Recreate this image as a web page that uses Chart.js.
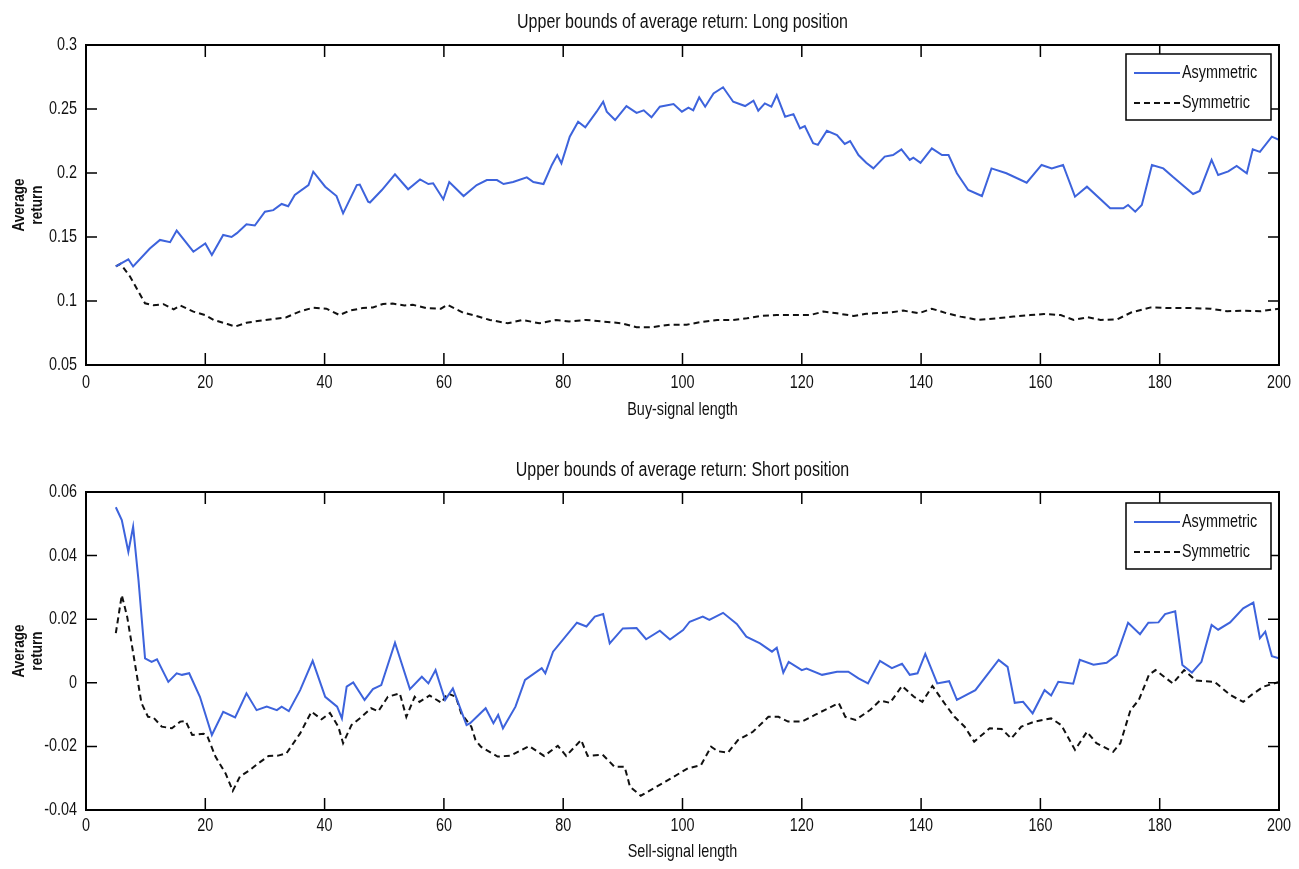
<!DOCTYPE html>
<html>
<head>
<meta charset="utf-8">
<script src="https://cdn.jsdelivr.net/npm/chart.js@4/dist/chart.umd.min.js"></script>
<style>
  html, body { margin: 0; padding: 0; background: #fff; }
  .panel { position: absolute; left: 0; width: 1299px; }
  #topWrap { top: 0; height: 430px; }
  #botWrap { top: 430px; height: 439px; }
</style>
</head>
<body>
<div class="panel" id="topWrap"><canvas id="longChart"></canvas></div>
<div class="panel" id="botWrap"><canvas id="shortChart"></canvas></div>
<script>
// Datos: [longitud de señal, rendimiento medio]
const longAsym = [[5,.127],[7.1,.1326],[7.9,.127],[10.7,.141],[12.4,.1477],[14.1,.146],[15.2,.155],[18,.1385],[20,.145],[21.1,.136],
  [23,.1516],[24.4,.150],[25.3,.153],[26.9,.160],[28.3,.159],[30,.1698],[31.4,.171],[32.8,.1758],[33.9,.174],[35,.1828],
  [37.3,.1906],[38.1,.201],[40.1,.1893],[42,.182],[43.1,.1685],[45.4,.1906],[45.9,.191],[47.3,.1776],[47.6,.177],[49.6,.1867],
  [51.8,.199],[54,.1873],[56,.195],[57.4,.1914],[58.2,.192],[59.9,.1795],[60.9,.193],[63.3,.182],[65.5,.1906],[67.2,.1945],
  [68.9,.1945],[70,.1914],[71.6,.193],[73.9,.1966],[75,.193],[76.7,.1914],[78.1,.2063],[79,.214],[79.7,.2076],[81.1,.2284],
  [82.5,.2401],[83.7,.2357],[85.6,.2479],[86.7,.2557],[87.3,.2479],[88.7,.2414],[90.6,.2523],[92.3,.247],[93.5,.249],[94.8,.2435],
  [96.2,.2518],[98.5,.2539],[99.9,.2479],[101,.251],[101.8,.249],[102.8,.2591],[103.8,.2518],[105.2,.2622],[106.8,.267],[108.5,.2557],
  [110.5,.2523],[111.9,.2565],[112.7,.2487],[113.8,.2544],[114.9,.2518],[115.8,.2609],[117.2,.244],[118.6,.246],[119.7,.2349],[120.5,.2367],
  [121.9,.2232],[122.7,.222],[124.2,.233],[125.9,.2297],[127.2,.2227],[128.1,.225],[129.5,.214],[130.8,.208],[132,.2036],[133.9,.2128],
  [135.3,.214],[136.7,.2185],[138.1,.2102],[138.7,.212],[139.9,.208],[141.8,.2193],[143.5,.214],[144.6,.214],[146,.1998],[147.9,.1867],
  [150.2,.182],[151.8,.2036],[154.3,.1998],[157.7,.1924],[160.2,.2063],[161.9,.2036],[163.8,.2063],[165.8,.1815],[167.8,.1893],[171.7,.1724],
  [173.9,.1724],[174.7,.175],[175.9,.1698],[177,.175],[178.7,.2063],[180.6,.2036],[182.2,.197],[185.6,.1836],[186.7,.186],[188.7,.2102],
  [189.8,.1984],[191.5,.2013],[192.9,.2055],[194.6,.1998],[195.6,.2185],[196.8,.2165],[198.8,.2284],[200,.226]];

const longSym = [[5,.127],[5.8,.129],[7.4,.119],[9.9,.0982],[11.3,.0967],[13,.0975],[14.7,.0935],[15.8,.0965],[18,.0917],[20,.089],
  [21.4,.0852],[23.7,.082],[25,.080],[26.9,.083],[29.1,.0846],[31.1,.0857],[33.6,.0873],[35.8,.0917],[38.1,.0948],[40.3,.094],
  [42.5,.089],[44.2,.0925],[46.4,.0945],[48.1,.095],[49.8,.0977],[51.4,.098],[53.4,.0965],[54.8,.097],[57,.0945],[59.5,.094],
  [60.6,.097],[63.2,.0909],[64.9,.089],[67.7,.0852],[70.7,.0826],[73.2,.0852],[76,.0826],[78.8,.0852],[81,.084],[83.8,.0852],
  [86.6,.084],[89.7,.0826],[92.3,.0795],[94.8,.0795],[97.9,.0815],[100.7,.0815],[103,.0835],[105.8,.0852],[108.5,.0852],[110.8,.0865],
  [113,.0883],[115.8,.089],[118.6,.089],[121.4,.089],[123.6,.0917],[125.9,.0904],[128.7,.0883],[130.8,.09],[132,.0904],[134.8,.091],
  [137,.0925],[139.6,.0904],[141.8,.094],[144.3,.0904],[146.6,.0878],[149.6,.0852],[152.7,.0865],[155.5,.0878],[158.3,.089],[160.6,.0898],
  [163.4,.089],[165.6,.0852],[167.9,.0873],[170.1,.0852],[172.9,.0857],[175.2,.091],[178.5,.095],[181.8,.0945],[185.2,.0945],[188.5,.094],
  [191.3,.092],[194.1,.0925],[196.9,.092],[200,.094]];

const shortAsym = [[5,.0552],[6,.0512],[7.1,.0412],[7.9,.0491],[8.8,.0323],[9.9,.0077],[11,.0066],[11.9,.0074],[13.8,.0003],[15.2,.003],
  [16.1,.0025],[17.3,.003],[19.1,-.0044],[21.1,-.0164],[23,-.0091],[25,-.0109],[26.9,-.0033],[28.6,-.0086],[30.3,-.0075],[32,-.0086],
  [32.8,-.0075],[34,-.0089],[35.9,-.0023],[38,.0069],[40.1,-.0044],[42.1,-.0075],[42.9,-.0112],[43.7,-.0012],[44.8,.0001],[46.7,-.0054],
  [48.1,-.002],[49.5,-.0007],[51.8,.0126],[54.3,-.002],[56.3,.0019],[57.4,-.0002],[58.6,.004],[60.2,-.0054],[61.5,-.0018],[63.8,-.0133],
  [64.4,-.0127],[67,-.008],[68.3,-.0127],[69.1,-.0101],[69.9,-.0143],[72,-.0075],[73.6,.0009],[76.4,.0046],[77,.003],[78.3,.0098],
  [82.3,.0189],[83.9,.0177],[85.3,.0208],[86.7,.0216],[87.8,.0124],[90,.0171],[92.3,.0172],[93.9,.0137],[96.2,.0164],[97.9,.0136],
  [100.1,.0166],[101.2,.0192],[103.4,.0208],[104.5,.0198],[106.8,.022],[109.1,.0185],[110.7,.0145],[113,.0124],[115,.0098],[115.8,.011],
  [116.9,.0032],[117.8,.0066],[120,.004],[120.8,.0045],[123.4,.0025],[125.9,.0035],[127.8,.0035],[129.5,.0014],[131.1,-.0002],[133.1,.0069],
  [135.1,.0046],[136.8,.006],[138.1,.0025],[139.4,.003],[140.7,.0091],[142.7,-.0002],[144.7,.0005],[146,-.0054],[149.1,-.0023],[153,.0072],
  [154.5,.005],[155.7,-.0063],[157.1,-.006],[158.7,-.0096],[160.7,-.0023],[161.8,-.004],[163,.0003],[165.5,-.0003],[166.6,.0072],[168.9,.0057],
  [171.1,.0063],[172.8,.0087],[174.7,.0189],[176.7,.0153],[178.1,.0189],[179.8,.019],[180.9,.0216],[182.6,.0225],[183.8,.0056],[185.4,.0032],
  [187,.0066],[188.7,.0182],[189.8,.0167],[191.8,.019],[194,.0234],[195.7,.0252],[196.8,.014],[197.7,.0161],[198.8,.0084],[200,.0077]];

const shortSym = [[5,.0156],[6,.0276],[6.9,.0208],[8.1,.0072],[9.3,-.0064],[10.4,-.0107],[11.3,-.0109],[12.7,-.0138],[14.4,-.0143],[15.8,-.0122],
  [16.7,-.012],[17.8,-.0164],[19.7,-.016],[20.3,-.0166],[21.7,-.0232],[23.4,-.0285],[24.6,-.034],[25.8,-.0295],[27.5,-.0274],[28.9,-.0253],
  [30.6,-.023],[32.2,-.0229],[33.6,-.0222],[35.9,-.0159],[37.8,-.0091],[39.5,-.0115],[40.9,-.0095],[42.3,-.0138],[43.1,-.019],[44.5,-.0133],
  [46.2,-.0107],[47.8,-.008],[49,-.009],[50.6,-.0044],[52.6,-.0033],[53.7,-.0107],[55.1,-.0044],[55.9,-.006],[57.6,-.004],[59.6,-.0063],
  [60.6,-.0033],[62,-.0044],[62.9,-.0096],[64.6,-.0138],[65.3,-.018],[66.2,-.0201],[69,-.0232],[71.2,-.0229],[74.3,-.0199],[76.8,-.023],
  [79.1,-.0198],[80.5,-.023],[83,-.018],[84.1,-.023],[86.6,-.0226],[88.6,-.0264],[90.3,-.0264],[91.2,-.0327],[93,-.0355],[95.8,-.0325],
  [98.1,-.03],[100.9,-.0269],[103.1,-.0259],[104.8,-.0201],[105.9,-.0215],[107.6,-.022],[109.3,-.018],[111.8,-.0154],[114.4,-.0107],[116.1,-.0107],
  [117.7,-.0122],[120,-.0122],[122.2,-.0101],[123.9,-.0085],[126.2,-.0064],[127.3,-.0107],[129,-.0117],[131.5,-.0085],[133.1,-.0056],[134.8,-.0063],
  [136.8,-.001],[138.8,-.0044],[140.2,-.006],[141.9,-.001],[143.9,-.0064],[145.6,-.0107],[147.3,-.0138],[148.9,-.0185],[151.5,-.0143],[153.5,-.0145],
  [155.1,-.0175],[156.8,-.0138],[159,-.0122],[161.8,-.0112],[163.5,-.0133],[165.8,-.0211],[167.8,-.0154],[169.4,-.019],[172.2,-.0217],[173.4,-.019],
  [175.1,-.0086],[176.5,-.0054],[178.2,.0025],[179.3,.004],[182.2,-.0002],[184.1,.004],[186.1,.0007],[189.2,.0003],[191.8,-.0038],[194,-.006],
  [195.4,-.0038],[197.4,-.0012],[200,.0003]];

// Ticks
const xTicks      = [0, 20, 40, 60, 80, 100, 120, 140, 160, 180, 200];
const yTicksLong  = [0.05, 0.1, 0.15, 0.2, 0.25, 0.3];
const yLabelsLong = ['0.05', '0.1', '0.15', '0.2', '0.25', '0.3'];
const yTicksShort  = [-0.04, -0.02, 0, 0.02, 0.04, 0.06];
const yLabelsShort = ['-0.04', '-0.02', '0', '0.02', '0.04', '0.06'];

// Textos
const seriesNames = ['Asymmetric', 'Symmetric'];
const yTitle = ['Average', 'return'];

const FONT = "'Liberation Sans', Arial, sans-serif";
const SQUEEZE = 0.8;   // el original usa una letra estrecha y alta
const BLUE = '#3d63dc';

const toPts = arr => arr.map(p => ({ x: p[0], y: p[1] }));

// texto estrecho: se comprime en horizontal
function narrowText(ctx, text, x, y, size, align, bold, rot) {
  ctx.save();
  ctx.translate(x, y);
  if (rot) ctx.rotate(rot);
  ctx.scale(SQUEEZE, 1);
  ctx.font = `${bold ? 'bold ' : ''}${size}px ${FONT}`;
  ctx.textAlign = align;
  ctx.textBaseline = 'middle';
  ctx.fillStyle = '#111';
  ctx.fillText(text, 0, 0);
  ctx.restore();
}

// Caja, marcas hacia dentro, textos y leyenda al estilo Matlab
const matlabAxes = {
  id: 'matlabAxes',
  afterDraw(chart, args, opts) {
    const { ctx, chartArea: a, scales } = chart;
    ctx.save();
    ctx.strokeStyle = '#000';
    ctx.lineWidth = 2;
    ctx.strokeRect(a.left, a.top, a.right - a.left, a.bottom - a.top);

    ctx.lineWidth = 1.5;
    ctx.beginPath();
    xTicks.forEach(v => {
      const px = scales.x.getPixelForValue(v);
      ctx.moveTo(px, a.bottom); ctx.lineTo(px, a.bottom - 12);
      ctx.moveTo(px, a.top);    ctx.lineTo(px, a.top + 12);
    });
    opts.yTicks.forEach(v => {
      const py = scales.y.getPixelForValue(v);
      ctx.moveTo(a.left, py);  ctx.lineTo(a.left + 11, py);
      ctx.moveTo(a.right, py); ctx.lineTo(a.right - 11, py);
    });
    ctx.stroke();
    ctx.restore();

    // etiquetas de los ejes
    xTicks.forEach(v => narrowText(ctx, String(v), scales.x.getPixelForValue(v), a.bottom + opts.xLabelGap, 18, 'center'));
    opts.yTicks.forEach((v, i) => narrowText(ctx, opts.yLabels[i], a.left - 9, scales.y.getPixelForValue(v), 18, 'right'));

    // títulos
    const cx = (a.left + a.right) / 2;
    narrowText(ctx, opts.title, cx, a.top - opts.titleGap, 20, 'center');
    narrowText(ctx, opts.xTitle, cx, a.bottom + opts.xTitleGap, 18, 'center');

    // etiqueta Y girada, dos líneas
    const cy = (a.top + a.bottom) / 2;
    yTitle.forEach((t, i) => narrowText(ctx, t, 19 + i * 18, cy, 17, 'center', true, -Math.PI / 2));

    // leyenda
    const bw = 145, bh = 66;
    const bx = a.right - 8 - bw, by = a.top + opts.legendGap;
    ctx.save();
    ctx.fillStyle = '#fff';
    ctx.fillRect(bx, by, bw, bh);
    ctx.lineWidth = 1.5;
    ctx.strokeStyle = '#000';
    ctx.strokeRect(bx, by, bw, bh);
    chart.data.datasets.forEach((ds, i) => {
      const ly = by + 19 + i * 30;
      ctx.save();
      ctx.strokeStyle = ds.borderColor;
      ctx.lineWidth = ds.borderWidth;
      ctx.setLineDash(ds.borderDash || []);
      ctx.beginPath();
      ctx.moveTo(bx + 8, ly); ctx.lineTo(bx + 54, ly);
      ctx.stroke();
      ctx.restore();
      narrowText(ctx, ds.label, bx + 56, ly, 18, 'left');
    });
    ctx.restore();
  }
};

function makeChart(id, asym, sym, yMin, yMax, yTicks, yLabels, opts) {
  return new Chart(document.getElementById(id), {
    type: 'line',
    data: {
      datasets: [
        { label: seriesNames[0], data: toPts(asym), borderColor: BLUE, borderWidth: 2, pointRadius: 0, tension: 0, fill: false },
        { label: seriesNames[1], data: toPts(sym), borderColor: '#111', borderWidth: 2, borderDash: [6, 4], pointRadius: 0, tension: 0, fill: false }
      ]
    },
    options: {
      responsive: true,
      maintainAspectRatio: false,
      animation: false,
      layout: { padding: { left: 0, right: 20, top: opts.top, bottom: 0 } },
      plugins: {
        legend: { display: false },
        tooltip: { enabled: false },
        matlabAxes: Object.assign({ yTicks, yLabels }, opts)
      },
      scales: {
        x: {
          type: 'linear', min: 0, max: 200,
          grid: { display: false, drawTicks: false },
          border: { display: false },
          ticks: { display: false },
          afterFit: s => { s.height = opts.xHeight; }
        },
        y: {
          min: yMin, max: yMax,
          grid: { display: false, drawTicks: false },
          border: { display: false },
          ticks: { display: false },
          afterFit: s => { s.width = 86; }
        }
      }
    },
    plugins: [matlabAxes]
  });
}

makeChart('longChart', longAsym, longSym, 0.05, 0.3, yTicksLong, yLabelsLong, {
  top: 45, xHeight: 65, titleGap: 23, legendGap: 9, xLabelGap: 18, xTitleGap: 45,
  title: 'Upper bounds of average return: Long position', xTitle: 'Buy-signal length'
});
makeChart('shortChart', shortAsym, shortSym, -0.04, 0.06, yTicksShort, yLabelsShort, {
  top: 62, xHeight: 59, titleGap: 22, legendGap: 11, xLabelGap: 16, xTitleGap: 42,
  title: 'Upper bounds of average return: Short position', xTitle: 'Sell-signal length'
});
</script>
</body>
</html>
